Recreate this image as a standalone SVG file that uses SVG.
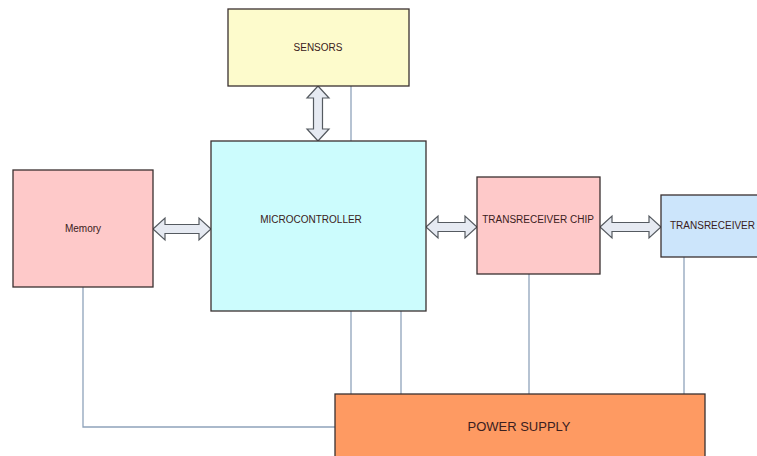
<svg xmlns="http://www.w3.org/2000/svg" width="757" height="456" viewBox="0 0 757 456">
<style>
.box{stroke:#3a3030;stroke-width:1.3}
.t{font-family:"Liberation Sans",Arial,sans-serif;font-size:10px;fill:#3a2020;text-anchor:middle;dominant-baseline:central}
.ln{fill:none;stroke:#8fa3bb;stroke-width:1.3}
.arr{fill:#e6eaf2;stroke:#555a60;stroke-width:1.2}
</style>
<rect width="757" height="456" fill="#ffffff"/>
<g id="connectors">
<path class="ln" d="M351 86 V141"/>
<path class="ln" d="M351 311 V394"/>
<path class="ln" d="M401 311 V394"/>
<path class="ln" d="M529 274 V394"/>
<path class="ln" d="M684 257 V394"/>
<path class="ln" d="M83 287 V427 H335"/>
<path class="arr" d="M318 86 L329 98 L322.5 98 L322.5 129 L329 129 L318 141 L307 129 L313.5 129 L313.5 98 L307 98 Z"/>
<path class="arr" d="M153 229 L165 218 L165 224.5 L199 224.5 L199 218 L211 229 L199 240 L199 233.5 L165 233.5 L165 240 Z"/>
<path class="arr" d="M426 227 L438 216 L438 222.5 L465 222.5 L465 216 L477 227 L465 238 L465 231.5 L438 231.5 L438 238 Z"/>
<path class="arr" d="M600 227 L612 216 L612 222.5 L649 222.5 L649 216 L661 227 L649 238 L649 231.5 L612 231.5 L612 238 Z"/>
</g>
<g id="sensors">
<rect class="box" x="228" y="9" width="181" height="77" fill="#fdfbcc"/>
<text class="t" x="318" y="47">SENSORS</text>
</g>
<g id="microcontroller">
<rect class="box" x="211" y="141" width="215" height="170" fill="#ccfcfd"/>
<text class="t" x="311" y="219">MICROCONTROLLER</text>
</g>
<g id="memory">
<rect class="box" x="13" y="170" width="140" height="117" fill="#fec9c9"/>
<text class="t" x="83" y="228">Memory</text>
</g>
<g id="chip">
<rect class="box" x="477" y="177" width="123" height="97" fill="#fec9c9"/>
<text class="t" x="538" y="219">TRANSRECEIVER CHIP</text>
</g>
<g id="transreceiver">
<rect class="box" x="661" y="195" width="100" height="62" fill="#cce5fb"/>
<text class="t" x="670" y="225" style="text-anchor:start">TRANSRECEIVER</text>
</g>
<g id="power">
<rect class="box" x="335" y="394" width="370" height="70" fill="#fe9a62"/>
<text class="t" x="519" y="426" style="font-size:13px">POWER SUPPLY</text>
</g>
</svg>
